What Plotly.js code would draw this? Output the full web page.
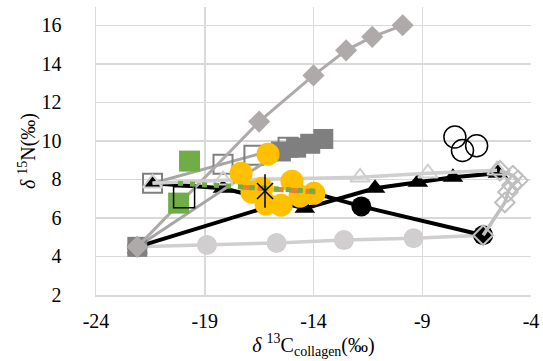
<!DOCTYPE html>
<html>
<head>
<meta charset="utf-8">
<script src="https://cdn.plot.ly/plotly-3.0.1.min.js"></script>
<style>html,body{margin:0;padding:0;background:#fff;}#chart{width:543px;height:361px;}</style>
</head>
<body>
<div id="chart"></div>
<script>
// Tick values
const xTicks = [-24, -19, -14, -9, -4];
const yTicks = [2, 4, 6, 8, 10, 12, 14, 16];

// Series (δ13C, δ15N)
const lgCircleX = [-22.1, -18.9, -15.7, -12.6, -9.4, -6.2];
const lgCircleY = [4.5, 4.6, 4.7, 4.85, 4.95, 5.1];

const blkCircleX = [-22.1, -14.0, -11.8, -6.2];
const blkCircleY = [4.5, 7.3, 6.6, 5.1];

const blkTriX = [-22.1, null, -21.4, -18.16, -14.4, -11.17, -9.2, -7.59, -5.52];
const blkTriY = [4.4, null, 7.8, 7.54, 6.5, 7.54, 7.85, 8.11, 8.32];

const dgSquareX = [-22.1, -15.5, -14.8, -14.15, -13.55];
const dgSquareY = [4.5, 9.45, 9.65, 9.85, 10.1];

const graySqX = [-21.4, -18.16, -16.74, -15.17];
const graySqY = [7.8, 8.79, 9.25, 9.67];

const diamondX = [-22.1, -16.5, -14.0, -12.5, -11.3, -9.9];
const diamondY = [4.5, 11.0, 13.4, 14.7, 15.4, 16.0];

const openTriX = [-21.4, -18.16, -11.86, -8.74, -5.56];
const openTriY = [7.8, 7.96, 8.11, 8.32, 8.48];

const openDiaX = [-6.2, -5.2, -5.06, -4.87, -4.6, -4.83, -5.43];
const openDiaY = [5.1, 6.8, 7.35, 7.7, 7.95, 8.2, 8.45];

const greenSqX = [-19.7, -20.2];
const greenSqY = [8.95, 6.77];

const openSqX = [-19.95];
const openSqY = [7.08];

const openCircX = [-7.5, -7.15, -6.5];
const openCircY = [10.2, 9.5, 9.75];

const yellowX = [-16.09, -17.33, -16.83, -16.18, -15.49, -14.99, -14.62, -13.98, -16.37];
const yellowY = [9.31, 8.32, 7.34, 6.72, 6.66, 7.91, 7.13, 7.28, 7.54];

const orangeX = [-17.3, -13.9];
const orangeY = [7.6, 7.35];

const greenDotX = [-20.23, -13.89];
const greenDotY = [7.8, 7.39];

const starX = [-16.23];
const starY = [7.4];

const traces = [
  {x: lgCircleX, y: lgCircleY, mode: 'lines+markers', line: {color: '#d0cece', width: 3.5},
   marker: {symbol: 'circle', size: 20, color: '#d0cece'}},
  {x: blkCircleX, y: blkCircleY, mode: 'lines+markers', line: {color: '#000000', width: 4},
   marker: {symbol: 'circle', size: 20, color: '#000000'}},
  {x: blkTriX, y: blkTriY, mode: 'lines+markers', connectgaps: false, line: {color: '#000000', width: 4},
   marker: {symbol: 'triangle-up', size: 18, color: '#000000'}},
  {x: graySqX, y: graySqY, mode: 'lines+markers', line: {color: '#a6a6a6', width: 3},
   marker: {symbol: 'square-open', size: 19, color: '#7f7f7f', line: {width: 2}}},
  {x: dgSquareX, y: dgSquareY, mode: 'lines+markers', line: {color: '#a6a6a6', width: 3},
   marker: {symbol: 'square', size: 20, color: '#7f7f7f'}},
  {x: diamondX, y: diamondY, mode: 'lines+markers', line: {color: '#aeaaaa', width: 3},
   marker: {symbol: 'diamond', size: 17, color: '#aeaaaa'}},
  {x: openTriX, y: openTriY, mode: 'lines+markers', line: {color: '#d0cece', width: 3.5},
   marker: {symbol: 'triangle-up-open', size: 17, color: '#d0cece', line: {width: 2}}},
  {x: openDiaX, y: openDiaY, mode: 'lines+markers', line: {color: '#bfbfbf', width: 3.5},
   marker: {symbol: 'diamond-open', size: 15, color: '#bfbfbf', line: {width: 2}}},
  {x: greenSqX, y: greenSqY, mode: 'markers',
   marker: {symbol: 'square', size: 21, color: '#70ad47'}},
  {x: openSqX, y: openSqY, mode: 'markers',
   marker: {symbol: 'square-open', size: 21, color: '#000000', line: {width: 1.5}}},
  {x: openCircX, y: openCircY, mode: 'markers',
   marker: {symbol: 'circle-open', size: 22, color: '#000000', line: {width: 1.5}}},
  {x: yellowX, y: yellowY, mode: 'markers',
   marker: {symbol: 'circle', size: 23, color: '#ffc000'}},
  {x: orangeX, y: orangeY, mode: 'lines', line: {color: '#ed7d31', width: 5, dash: '10px,6px'}},
  {x: greenDotX, y: greenDotY, mode: 'lines', line: {color: '#70ad47', width: 5, dash: '5px,7px'}},
  {x: starX, y: starY, mode: 'markers',
   marker: {symbol: 'x-thin-open', size: 16, color: '#000000', line: {width: 1.5, color: '#000000'}}},
  {x: starX, y: starY, mode: 'markers',
   marker: {symbol: 'line-ns-open', size: 24, color: '#000000', line: {width: 1.5, color: '#000000'}}}
];

const gridColor = '#d9d9d9';
const fontFam = 'Liberation Serif, serif';

const layout = {
  width: 543, height: 361,
  margin: {l: 96, r: 12, t: 7, b: 66},
  paper_bgcolor: '#ffffff', plot_bgcolor: '#ffffff',
  showlegend: false,
  font: {family: fontFam, size: 20, color: '#000000'},
  xaxis: {
    range: [-24, -4], tickvals: xTicks, ticktext: xTicks.map(String),
    showgrid: true, gridcolor: gridColor, gridwidth: 1.5,
    zeroline: false, showline: true, linecolor: gridColor, linewidth: 1.5, mirror: false,
    ticks: '', ticklabelstandoff: 7,
    tickfont: {family: fontFam, size: 20},
    title: {text: '<i>δ</i> <sup>13</sup>C<sub>collagen</sub>(‰)', font: {family: fontFam, size: 20}, standoff: 0}
  },
  yaxis: {
    range: [2, 16.95], tickvals: yTicks, ticktext: yTicks.map(String),
    showgrid: true, gridcolor: gridColor, gridwidth: 1.5,
    zeroline: false, showline: true, linecolor: gridColor, linewidth: 1.5,
    ticks: '', ticklabelstandoff: 29,
    tickfont: {family: fontFam, size: 20},
    title: {text: '<i>δ</i> <sup>15</sup>N(‰)', font: {family: fontFam, size: 20}, standoff: 0}
  }
};

Plotly.newPlot('chart', traces, layout, {staticPlot: true, displayModeBar: false});
</script>
</body>
</html>
